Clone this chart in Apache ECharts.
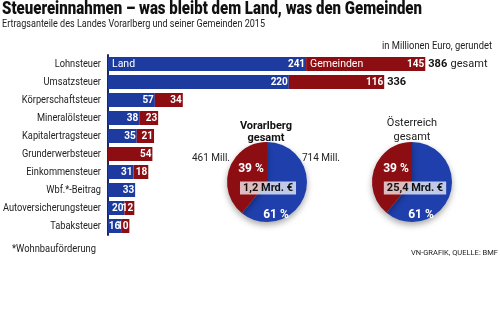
<!DOCTYPE html>
<html>
<head>
<meta charset="utf-8">
<script src="https://cdn.jsdelivr.net/npm/echarts@6/dist/echarts.min.js"></script>
<style>
  html, body { margin: 0; padding: 0; background: #fff; }
  #chart { width: 500px; height: 329px; }
</style>
</head>
<body>
<div id="chart"></div>
<script>
// Ertragsanteile 2015, in Millionen Euro
var categories = ['Lohnsteuer', 'Umsatzsteuer', 'Körperschaftsteuer', 'Mineralölsteuer',
  'Kapitalertragsteuer', 'Grunderwerbsteuer', 'Einkommensteuer', 'Wbf.*-Beitrag',
  'Autoversicherungsteuer', 'Tabaksteuer'];
var landValues = [241, 220, 57, 38, 35, 0, 31, 33, 20, 16];
var gemeindenValues = [145, 116, 34, 23, 21, 54, 18, 0, 12, 10];
var showTotal = [true, true, false, false, false, false, false, false, false, false];

// Gesamtaufteilung Land / Gemeinden
var pieNames = ['Land', 'Gemeinden'];
var vorarlbergValues = [714, 461];
var oesterreichValues = [61, 39];
var vorarlbergTotal = '1,2 Mrd. €';
var oesterreichTotal = '25,4 Mrd. €';

var BLUE = '#1d3b9f';
var RED = '#8c0d12';
var FONT = 'Roboto, "Noto Sans", sans-serif';

var chart = echarts.init(document.getElementById('chart'), null, { renderer: 'canvas' });

var measureCtx = document.createElement('canvas').getContext('2d');
function textWidth(str, font) {
  measureCtx.font = font;
  return measureCtx.measureText(str).width;
}

var pieCenters = [[267, 182], [412, 182]];
var pieRadius = 40;

function pieLayout(ci) {
  return function (params) {
    var c = pieCenters[ci];
    if (params.dataIndex === 1) {
      return { x: c[0] - 16, y: c[1] - 13, align: 'center', verticalAlign: 'middle' };
    }
    return { x: c[0] + 9, y: c[1] + 33, align: 'center', verticalAlign: 'middle' };
  };
}

function pctLabel(p) {
  return Math.round(p.percent) + ' %';
}

function pieSeries(ci, values) {
  return {
    type: 'pie',
    center: pieCenters[ci],
    radius: pieRadius,
    startAngle: 90,
    clockwise: true,
    silent: true,
    animation: false,
    data: values.map(function (v, i) {
      return { name: pieNames[i], value: v, itemStyle: { color: i === 0 ? '#1f3fac' : RED } };
    }),
    itemStyle: {
      shadowBlur: 6,
      shadowOffsetY: 3,
      shadowColor: 'rgba(0,0,0,0.35)'
    },
    label: {
      show: true,
      position: 'inside',
      formatter: pctLabel,
      color: '#fff',
      fontWeight: 'bold',
      fontSize: 12,
      fontFamily: FONT
    },
    labelLine: { show: false },
    labelLayout: pieLayout(ci)
  };
}

// text element; scaleX squeezes it horizontally, fitWidth squeezes it to a given width
function text(x, y, str, opts) {
  opts = opts || {};
  var font = (opts.weight || 'normal') + ' ' + (opts.size || 11) + 'px ' + FONT;
  var sx = opts.scaleX || 1;
  if (opts.fitWidth) {
    sx = opts.fitWidth / textWidth(str, font);
  }
  return {
    type: 'text',
    x: x,
    y: y,
    scaleX: sx,
    silent: true,
    style: {
      text: str,
      fill: opts.color || '#222',
      font: font,
      textAlign: opts.align || 'left',
      textVerticalAlign: 'middle',
      backgroundColor: opts.bg,
      padding: opts.padding
    },
    z: 100
  };
}

var valueLabel = {
  show: true,
  position: 'insideRight',
  distance: 1,
  formatter: function (p) { return p.value ? p.value : ''; },
  color: '#fff',
  fontWeight: 'bold',
  fontSize: 10,
  fontFamily: FONT
};

var option = {
  backgroundColor: '#fff',
  animation: false,
  grid: { left: 108, top: 55, width: 411, height: 180, containLabel: false, outerBoundsMode: 'none' },
  xAxis: {
    type: 'value',
    min: 0,
    max: 500,
    show: false
  },
  yAxis: {
    type: 'category',
    data: categories,
    inverse: true,
    axisLine: { show: true, lineStyle: { color: '#1b2868', width: 2 } },
    axisTick: { show: false },
    axisLabel: { show: false }
  },
  series: [
    {
      name: 'Land',
      type: 'bar',
      stack: 'total',
      barWidth: 14,
      data: landValues,
      itemStyle: { color: BLUE },
      label: valueLabel,
      markPoint: {
        symbol: 'rect',
        symbolSize: 0,
        silent: true,
        data: [{ coord: [0, categories[0]], value: 'Land' }],
        label: {
          show: true,
          position: 'right',
          distance: 4,
          formatter: 'Land',
          color: '#fff',
          fontSize: 10.5,
          fontFamily: FONT
        }
      }
    },
    {
      name: 'Gemeinden',
      type: 'bar',
      stack: 'total',
      barWidth: 14,
      data: gemeindenValues,
      itemStyle: { color: RED },
      label: valueLabel,
      markPoint: {
        symbol: 'rect',
        symbolSize: 0,
        silent: true,
        data: [{ coord: [landValues[0], categories[0]], value: 'Gemeinden' }],
        label: {
          show: true,
          position: 'right',
          distance: 4,
          formatter: 'Gemeinden',
          color: '#fff',
          fontSize: 10.5,
          fontFamily: FONT
        }
      }
    },
    {
      name: 'gesamt',
      type: 'bar',
      stack: 'total',
      barWidth: 14,
      data: categories.map(function () { return 0; }),
      itemStyle: { color: 'rgba(0,0,0,0)' },
      label: {
        show: true,
        position: 'right',
        distance: 3,
        formatter: function (p) {
          var i = p.dataIndex;
          if (!showTotal[i]) return '';
          var sum = landValues[i] + gemeindenValues[i];
          return i === 0 ? '{b|' + sum + '} {n|gesamt}' : '{b|' + sum + '}';
        },
        rich: {
          b: { color: '#111', fontWeight: 'bold', fontSize: 11, fontFamily: FONT },
          n: { color: '#222', fontSize: 11, fontFamily: FONT }
        }
      }
    },
    pieSeries(0, vorarlbergValues),
    pieSeries(1, oesterreichValues)
  ],
  graphic: [
    text(2, 9, 'Steuereinnahmen – was bleibt dem Land, was den Gemeinden', { weight: '900', size: 18, color: '#111', fitWidth: 420 }),
    text(2, 24, 'Ertragsanteile des Landes Vorarlberg und seiner Gemeinden 2015', { size: 11, color: '#222', fitWidth: 263 }),
    text(492, 46, 'in Millionen Euro, gerundet', { size: 10.5, align: 'right', fitWidth: 110 }),
    text(12, 249, '*Wohnbauförderung', { size: 11, fitWidth: 84 }),
    text(498, 253, 'VN-GRAFIK, QUELLE: BMF', { size: 8, align: 'right', fitWidth: 87 }),
    text(266, 126, 'Vorarlberg', { weight: 'bold', size: 11, align: 'center', color: '#111' }),
    text(266, 138, 'gesamt', { weight: 'bold', size: 11, align: 'center', color: '#111' }),
    text(412, 123, 'Österreich', { size: 11, align: 'center' }),
    text(412, 137, 'gesamt', { size: 11, align: 'center' }),
    text(230, 158, vorarlbergValues[1] + ' Mill.', { size: 10, align: 'right' }),
    text(302, 158, vorarlbergValues[0] + ' Mill.', { size: 10, align: 'left' }),
    text(268, 188, vorarlbergTotal, { weight: 'bold', size: 11, align: 'center', color: '#111', bg: 'rgba(255,255,255,0.72)', padding: [1, 3] }),
    text(415, 188, oesterreichTotal, { weight: 'bold', size: 11, align: 'center', color: '#111', bg: 'rgba(255,255,255,0.72)', padding: [1, 3] })
  ]
};

chart.setOption(option);

// Category names, right-aligned next to the axis line at each category's position,
// set in a narrowed face so the longest name fits left of the axis.
var catFont = 'normal 11px ' + FONT;
var widest = Math.max.apply(null, categories.map(function (c) { return textWidth(c, catFont); }));
var catScale = Math.min(1, 98 / widest);
var axisX = chart.convertToPixel({ xAxisIndex: 0 }, 0);
var catLabels = categories.map(function (c) {
  var y = chart.convertToPixel({ yAxisIndex: 0 }, c);
  return text(axisX - 7, y, c, { size: 11, align: 'right', scaleX: catScale });
});
chart.setOption({ graphic: option.graphic.concat(catLabels) });
</script>
</body>
</html>
